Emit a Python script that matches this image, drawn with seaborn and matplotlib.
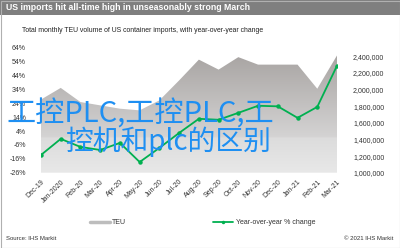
import numpy as np
import pandas as pd
import matplotlib
matplotlib.use("Agg")
import matplotlib.pyplot as plt
from matplotlib.lines import Line2D
from matplotlib.colors import LinearSegmentedColormap
import seaborn as sns

months = ["Dec-19", "Jan-2020", "Feb-20", "Mar-20", "Apr-20", "May-20", "Jun-20",
          "Jul-20", "Aug-20", "Sep-20", "Oct-20", "Nov-20", "Dec-20", "Jan-21",
          "Feb-21", "Mar-21"]
teu = [1880000, 2020000, 1850000, 1810000, 1770000, 1750000, 1870000, 2110000,
       2360000, 2240000, 2390000, 2300000, 2300000, 2300000, 2010000, 2410000]
yoy = [-13.2, -1.6, -7.4, -9.6, -4.5, -18.3, -8.1, 2.7, 12.9, 12.2, 17.2, 22.3,
       21.9, 13.6, 21.5, 51.2]
pct_ticks = [-26, -16, -6, 4, 14, 24, 34, 44, 54, 64]
teu_ticks = [1000000, 1200000, 1400000, 1600000, 1800000, 2000000, 2200000, 2400000]

title = "US imports hit all-time high in unseasonably strong March"
subtitle = "Total monthly TEU volume of US container imports, with year-over-year change"
source = "Source: IHS Markit"
copyright_txt = "\u00a9 2021 IHS Markit"
watermark1 = "工控PLC,工控PLC,工"
watermark2 = "控机和plc的区别"

sns.set_theme(style="white")
plt.rcParams['font.family'] = ['Liberation Sans', 'DejaVu Sans']

df = pd.DataFrame({"idx": np.arange(len(months)), "month": months, "teu": teu, "yoy": yoy})

W, H = 400, 248
fig = plt.figure(figsize=(W / 100, H / 100), dpi=100)
fig.patch.set_facecolor("white")

x0, x1, ytop, ybot = 41, 337, 48, 172.7
ax = fig.add_axes([x0 / W, 1 - ybot / H, (x1 - x0) / W, (ybot - ytop) / H])
ax.set_facecolor("white")

# TEU gradient area (primary axis, right-side ticks)
poly = ax.fill_between(df["idx"], df["teu"], 1000000, facecolor="none", edgecolor="none")
cmap = LinearSegmentedColormap.from_list("g", [(0, "#e8e8e8"), (0.28, "#dcdcdc"), (0.29, "#d4d3d3"), (1, "#a5a19f")])
grad = np.linspace(0, 1, 256).reshape(-1, 1)
im = ax.imshow(grad, extent=(0, 15, 1000000, 2500000), origin="lower", aspect="auto", cmap=cmap, zorder=1)
im.set_clip_path(poly.get_paths()[0], transform=ax.transData)
ax.set_xlim(0, 15)
ax.set_ylim(1000000, 2500000)
ax.set_xticks(df["idx"])
ax.set_xticklabels(months, rotation=45, ha="right", rotation_mode="anchor", fontsize=5, color="#333333")
ax.tick_params(axis="x", length=0, pad=4)
ax.set_xlabel("")
ax.set_ylabel("")
for s in ax.spines.values():
    s.set_visible(False)

# YoY line (secondary axis, left-side ticks)
ax2 = ax.twinx()
sns.lineplot(data=df, x="idx", y="yoy", ax=ax2, color="#00b050", linewidth=1.3,
             marker="o", markersize=3.2, markeredgewidth=0, zorder=5)
ax2.set_ylim(-26, 64)
ax2.set_xlim(0, 15)
ax2.set_xlabel("")
ax2.set_ylabel("")
for s in ax2.spines.values():
    s.set_visible(False)

# axis sides after twinx
ax.yaxis.tick_right()
ax.set_yticks(teu_ticks)
ax.set_yticklabels([f"{t:,}" for t in teu_ticks], fontsize=5, color="#333333")
ax.tick_params(axis="y", which="both", left=False, labelleft=False, right=False, labelright=True, length=0, pad=11.5)

ax2.yaxis.tick_left()
ax2.set_yticks(pct_ticks)
ax2.set_yticklabels([f"{t}%" for t in pct_ticks], fontsize=5, color="#333333")
ax2.tick_params(axis="y", which="both", right=False, labelright=False, left=False, labelleft=True, length=0, pad=10.8)

# Title bar
fig.patches.append(plt.Rectangle((0, 1 - 15 / H), 1, 15 / H, transform=fig.transFigure,
                                 facecolor="#7f7f7f", edgecolor="none", zorder=0))
fig.text(6 / W, 1 - 7.5 / H, title, color="white", fontsize=6.3, fontweight="bold", va="center", ha="left")
fig.text(22 / W, 1 - 31 / H, subtitle, color="#222222", fontsize=4.95, va="center", ha="left")

# Legend
handles = [Line2D([0], [0], color="#bdbdbd", lw=2.5),
           Line2D([0], [0], color="#00b050", lw=1.3, marker="o", markersize=2.5, markeredgewidth=0)]
fig.legend(handles, ["TEU", "Year-over-year % change"], loc="center", bbox_to_anchor=(202.5 / W, 1 - 223 / H),
           ncol=2, frameon=False, fontsize=5, handlelength=2.9, handletextpad=0.35, columnspacing=12.5,
           labelcolor="#333333")

# Footer
fig.text(6 / W, 1 - 238 / H, source, fontsize=4.3, color="#333333", va="center", ha="left")
fig.text(393 / W, 1 - 238 / H, copyright_txt, fontsize=4.3, color="#333333", va="center", ha="right")

# Watermark
fig.text(6 / W, 1 - 115 / H, watermark1, fontsize=21, color="#1e8ff2", va="center", ha="left",
         fontweight="medium", family=["Noto Sans CJK SC", "DejaVu Sans"], zorder=10)
fig.text(65 / W, 1 - 142 / H, watermark2, fontsize=20, color="#1e8ff2", va="center", ha="left",
         fontweight="medium", family=["Noto Sans CJK SC", "DejaVu Sans"], zorder=10)

# Border
fig.patches.append(plt.Rectangle((0.5 / W, 0.5 / H), 1 - 1 / W, 1 - 1 / H, transform=fig.transFigure,
                                 facecolor="none", edgecolor="#b0b0b0", lw=0.8, zorder=20))

fig.savefig("out.png", dpi=100)
